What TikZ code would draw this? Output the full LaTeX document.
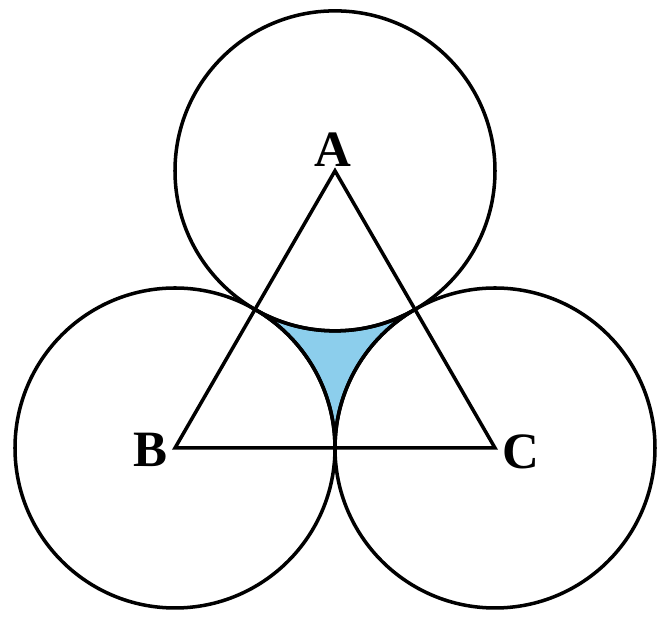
\documentclass[tikz,border=0pt]{standalone}
\usepackage{fontspec}
\setmainfont{Liberation Serif}
\usepackage{tikz}
\usetikzlibrary{calc}
\definecolor{shadeblue}{RGB}{140, 206, 236}
\tikzset{
  % circles and triangle
  circline/.style  = {line width=2pt, draw=black},
  triline/.style   = {line width=2pt, draw=black, line join=miter},
  % shaded region
  shaded/.style    = {fill=shadeblue, draw=black, line width=2pt},
  % vertex labels
  vlab/.style      = {font=\fontsize{29}{31}\selectfont\bfseries, inner sep=1pt},
}
\begin{document}
\begin{tikzpicture}
  \useasboundingbox (0,0) rectangle (13.18,12.36);
  % side and radius
  \pgfmathsetmacro{\s}{6.4}
  \pgfmathsetmacro{\r}{\s/2}
  % vertices
  \coordinate (B) at (3.5,3.40);
  \coordinate (C) at ($(B)+(\s,0)$);
  \coordinate (A) at ($(B)+(60:\s)$);
  % shaded region between the circles
  \path[shaded] ($(A)!0.5!(B)$) arc[start angle=240, end angle=300, radius=\r]
    arc[start angle=120, end angle=180, radius=\r]
    arc[start angle=0, end angle=60, radius=\r] -- cycle;
  % circles
  \draw[circline] (A) circle[radius=\r];
  \draw[circline] (B) circle[radius=\r];
  \draw[circline] (C) circle[radius=\r];
  % triangle
  \draw[triline] (A) -- (B) -- (C) -- cycle;
  % labels
  \node[vlab] (labA) at ($(A)+(-0.04,0.42)$) {A};
  \node[vlab] (labB) at ($(B)+(-0.5,-0.04)$) {B};
  \node[vlab] (labC) at ($(C)+(0.52,-0.08)$) {C};
\end{tikzpicture}
\end{document}
